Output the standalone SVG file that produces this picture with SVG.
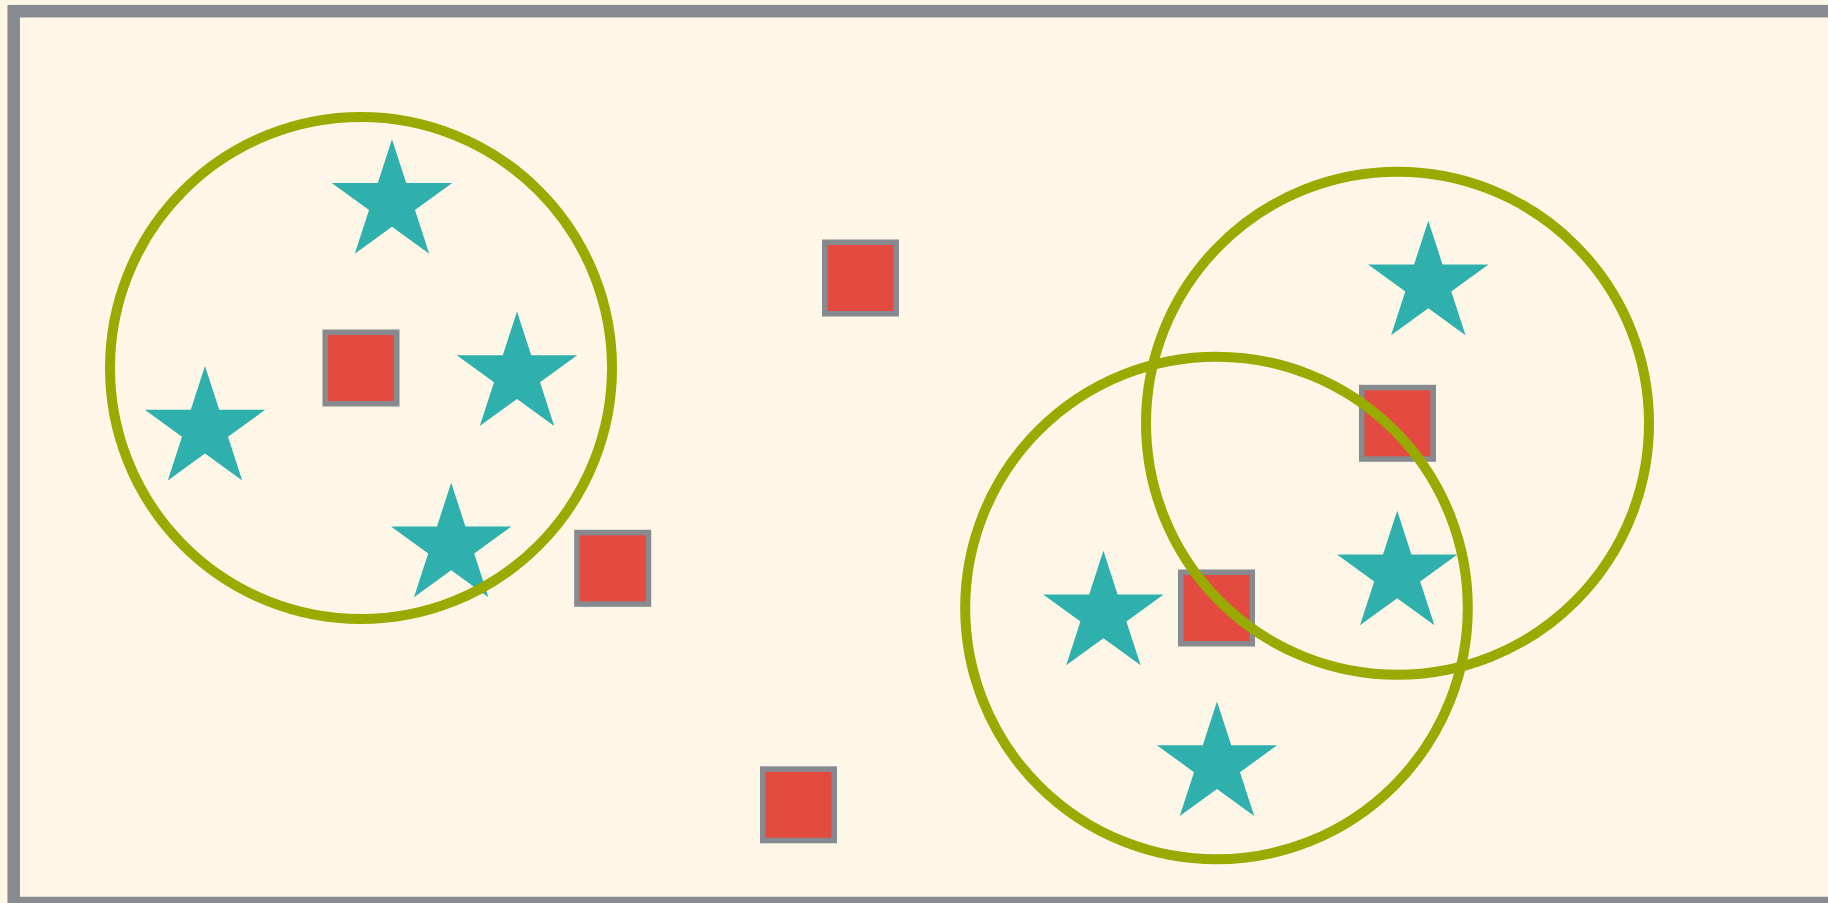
<svg xmlns="http://www.w3.org/2000/svg" xmlns:xlink="http://www.w3.org/1999/xlink" width="1828" height="903" viewBox="0 0 1828 903">
  <style>
    .frame { fill: #fef7e7; stroke: #878a8f; stroke-width: 12.5; }
    .sq { fill: #e44b40; stroke: #878a8f; stroke-width: 5.5; }
    .star { fill: #2fb0ac; }
    .ring { fill: none; stroke: #99aa00; stroke-width: 10; }
  </style>
  <defs>
    <path id="starShape" d="M0,-63.3 L14.21,-19.56 L60.2,-19.56 L23,7.47 L37.21,51.21 L0,24.18 L-37.21,51.21 L-23,7.47 L-60.2,-19.56 L-14.21,-19.56 Z"/>
    <rect id="sqShape" x="-35.75" y="-35.75" width="71.5" height="71.5"/>
  </defs>
  <rect x="0" y="0" width="1828" height="903" fill="#fef7e7"/>
  <rect id="frame" class="frame" x="13.7" y="11.2" width="1840" height="891.8"/>

  <g id="square1" class="sq"><use xlink:href="#sqShape" href="#sqShape" x="361" y="368"/></g>
  <g id="square2" class="sq"><use xlink:href="#sqShape" href="#sqShape" x="612.7" y="568.3"/></g>
  <g id="square3" class="sq"><use xlink:href="#sqShape" href="#sqShape" x="860.5" y="278"/></g>
  <g id="square4" class="sq"><use xlink:href="#sqShape" href="#sqShape" x="798.5" y="804.8"/></g>
  <g id="square5" class="sq"><use xlink:href="#sqShape" href="#sqShape" x="1216.5" y="608"/></g>
  <g id="square6" class="sq"><use xlink:href="#sqShape" href="#sqShape" x="1397.5" y="423.3"/></g>

  <g id="star1" class="star"><use xlink:href="#starShape" href="#starShape" x="392" y="202.5"/></g>
  <g id="star2" class="star"><use xlink:href="#starShape" href="#starShape" x="517" y="374.8"/></g>
  <g id="star3" class="star"><use xlink:href="#starShape" href="#starShape" x="205" y="429.4"/></g>
  <g id="star4" class="star"><use xlink:href="#starShape" href="#starShape" x="451.2" y="546"/></g>
  <g id="star5" class="star"><use xlink:href="#starShape" href="#starShape" x="1428.3" y="284"/></g>
  <g id="star6" class="star"><use xlink:href="#starShape" href="#starShape" x="1397.2" y="574"/></g>
  <g id="star7" class="star"><use xlink:href="#starShape" href="#starShape" x="1217" y="764.7"/></g>
  <g id="star8" class="star"><use xlink:href="#starShape" href="#starShape" x="1103.4" y="614"/></g>

  <g id="circle1"><circle class="ring" cx="361" cy="368" r="251"/></g>
  <g id="circle2"><circle class="ring" cx="1216.5" cy="608" r="251.3"/></g>
  <g id="circle3"><circle class="ring" cx="1397.5" cy="423.3" r="251.5"/></g>
</svg>
